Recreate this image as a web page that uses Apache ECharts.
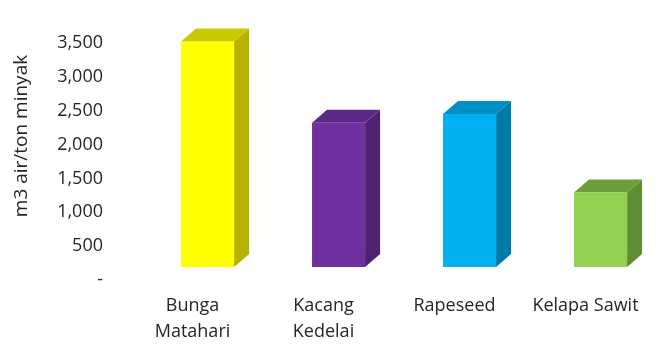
<!DOCTYPE html>
<html>
<head>
<meta charset="utf-8">
<script src="https://cdn.jsdelivr.net/npm/echarts@6/dist/echarts.min.js"></script>
<style>
html,body{margin:0;padding:0;background:#fff;}
#chart{width:660px;height:356px;}
</style>
</head>
<body>
<div id="chart"></div>
<script>
var categories = ['Bunga\nMatahari', 'Kacang\nKedelai', 'Rapeseed', 'Kelapa Sawit'];
var values = [3330, 2130, 2260, 1100];
var yTicks = [0, 500, 1000, 1500, 2000, 2500, 3000, 3500];
var yTitle = 'm3 air/ton minyak';

var frontColors = ['#FFFF00', '#7030A0', '#00B0F0', '#92D050'];
var sideColors  = ['#B3B300', '#4E2270', '#007BA8', '#5F8F32'];
var topColors   = ['#C9C900', '#5C2887', '#008FC4', '#6E9E3A'];

var chart = echarts.init(document.getElementById('chart'));
var font = '"Open Sans", sans-serif';

chart.setOption({
  backgroundColor: '#ffffff',
  animation: false,
  grid: { left: 127, right: 9, top: 43, bottom: 76 },
  graphic: [{
    type: 'text',
    x: 22, y: 136,
    rotation: Math.PI / 2,
    style: { text: yTitle, fontFamily: font, fontSize: 19, fill: '#262626', align: 'center', verticalAlign: 'middle' }
  }],
  xAxis: {
    type: 'category',
    data: categories,
    axisLine: { show: false },
    axisTick: { show: false },
    axisLabel: { interval: 0, margin: 13, fontFamily: font, fontSize: 18, color: '#262626', lineHeight: 26 }
  },
  yAxis: {
    type: 'value',
    min: 0, max: 3500, interval: 500,
    splitLine: { show: false },
    axisLine: { show: false },
    axisTick: { show: false },
    axisLabel: {
      margin: 24, fontFamily: font, fontSize: 18, color: '#262626',
      formatter: function (v) { return v === 0 ? '-' : v.toLocaleString('en-US'); }
    }
  },
  series: [{
    type: 'custom',
    data: values.map(function (v, i) { return [i, v]; }),
    renderItem: function (params, api) {
      var idx = api.value(0), v = api.value(1), i = params.dataIndex;
      var base = api.coord([idx, 0]);
      var top = api.coord([idx, v]);
      var band = api.size([1, 0])[0];
      var w = band * 0.405, off = band * 0.115;
      var dx = 15, dy = 13;
      var x0 = base[0] + off - w / 2, x1 = x0 + w;
      var yb = base[1] - dy, yt = top[1] - dy;
      return {
        type: 'group',
        children: [
          { type: 'polygon', shape: { points: [[x1, yb], [x1 + dx, yb - dy], [x1 + dx, yt - dy], [x1, yt]] }, style: { fill: sideColors[i] } },
          { type: 'polygon', shape: { points: [[x0, yt], [x0 + dx, yt - dy], [x1 + dx, yt - dy], [x1, yt]] }, style: { fill: topColors[i] } },
          { type: 'rect', shape: { x: x0, y: yt, width: w, height: yb - yt }, style: { fill: frontColors[i] } }
        ]
      };
    }
  }]
});
</script>
</body>
</html>
